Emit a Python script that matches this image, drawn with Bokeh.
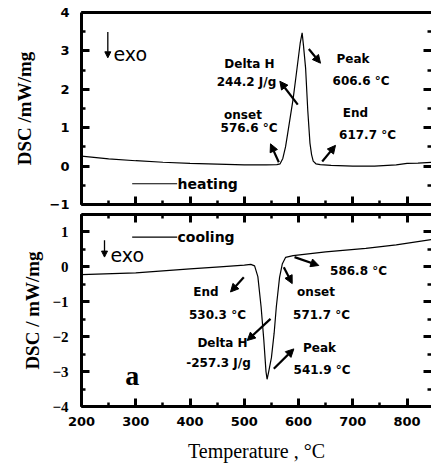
from bokeh.plotting import figure
from bokeh.layouts import column
from bokeh.models import (LinearAxis, SingleIntervalTicker, Range1d, Arrow,
                          NormalHead, ColumnDataSource, CustomJSTickFormatter)
from bokeh.core.properties import value
from bokeh.embed import file_html
from bokeh.resources import INLINE

# ---------------- data ----------------
heat_T = [200, 250, 300, 350, 400, 450, 500, 540, 560, 566, 571, 576, 580, 585,
          590, 595, 599, 603, 606.6, 609, 613, 617, 621, 624, 627, 632, 640, 660,
          700, 740, 780, 800, 820, 845]
heat_dsc = [0.26, 0.19, 0.14, 0.10, 0.07, 0.05, 0.03, 0.03, 0.04, 0.06, 0.20, 0.50,
            0.85, 1.30, 1.75, 2.30, 2.75, 3.20, 3.47, 3.15, 2.55, 1.45, 0.60, 0.30,
            0.13, 0.06, 0.04, 0.02, 0.00, 0.00, 0.03, 0.07, 0.08, 0.10]

cool_T = [200, 300, 400, 455, 500, 512, 519, 525, 531, 536, 540, 542, 545, 550,
          555, 559, 565, 570, 576, 590, 650, 724, 780, 845]
cool_dsc = [-0.22, -0.17, -0.06, 0.00, 0.05, 0.07, 0.03, -0.28, -1.15, -2.10,
            -3.00, -3.22, -3.00, -2.60, -1.90, -1.15, -0.30, 0.08, 0.27, 0.32,
            0.43, 0.53, 0.63, 0.78]

# annotation texts and positions (data units)
top_txt = ["Delta H", "244.2 J/g", "onset", "576.6 °C", "Peak", "606.6 °C",
           "End", "617.7 °C"]
top_txt_x = [509.6, 504.1, 497.6, 508.7, 700.4, 715.1, 705.0, 727.1]
top_txt_y = [2.67, 2.18, 1.34, 0.98, 2.78, 2.21, 1.37, 0.80]
top_arr_x0 = [598.6, 618.9, 563.6, 643.6]
top_arr_y0 = [1.60, 3.05, 0.10, 0.12]
top_arr_x1 = [565.5, 640.5, 548.3, 668.1]
top_arr_y1 = [2.21, 2.68, 0.58, 0.54]

bot_txt = ["586.8 °C", "onset", "571.7 °C", "End", "530.3 °C", "Delta H",
           "-257.3 J/g", "Peak", "541.9 °C"]
bot_txt_x = [710.5, 632.2, 642.3, 429.5, 450.6, 459.9, 452.5, 638.6, 643.2]
bot_txt_y = [-0.12, -0.72, -1.37, -0.73, -1.39, -2.19, -2.74, -2.33, -2.95]
bot_arr_x0 = [592.6, 572.8, 499.1, 548.3, 554.4]
bot_arr_y0 = [0.28, -0.01, -0.30, -1.49, -2.92]
bot_arr_x1 = [637.3, 588.3, 474.6, 505.4, 591.3]
bot_arr_y1 = [0.04, -0.48, -0.72, -2.11, -2.35]

X_RANGE = (200, 845)
TOP_Y = (-1, 4)
BOT_Y = (-4, 1.5)

SANS = "DejaVu Sans"
SERIF = "Liberation Serif"


def tick_axis(ax, labels):
    ax.axis_line_width = 3
    ax.axis_line_color = "black"
    ax.major_tick_in = 8
    ax.major_tick_out = 0
    ax.minor_tick_in = 4
    ax.minor_tick_out = 0
    ax.major_tick_line_width = 3
    ax.minor_tick_line_width = 2.5
    ax.major_tick_line_color = "black"
    ax.minor_tick_line_color = "black"
    ax.major_label_text_color = "black"
    ax.axis_label_text_color = "black"
    if not labels:
        ax.formatter = CustomJSTickFormatter(code="return ''")
        ax.major_label_standoff = 0


def make_panel(height, yr, mb_top, mb_bottom):
    p = figure(width=431, height=height, x_range=Range1d(*X_RANGE),
               y_range=Range1d(*yr), output_backend="svg",
               toolbar_location=None, x_axis_location=None,
               y_axis_location=None, min_border_left=81, min_border_right=0,
               min_border_top=mb_top, min_border_bottom=mb_bottom)
    p.outline_line_color = None
    p.xgrid.visible = False
    p.ygrid.visible = False
    p.background_fill_color = "white"
    return p


def y_ticker():
    return SingleIntervalTicker(interval=1, num_minor_ticks=2)


def x_ticker():
    return SingleIntervalTicker(interval=100, num_minor_ticks=2)


# ---------------- top panel (heating) ----------------
p1 = make_panel(213, TOP_Y, 12, 9)

ly = LinearAxis(ticker=y_ticker(), axis_label="DSC /mW/mg")
tick_axis(ly, True)
ly.major_label_text_font = SANS
ly.major_label_text_font_style = "bold"
ly.major_label_text_font_size = "13px"
ly.major_label_standoff = 12
ly.axis_label_text_font = SERIF
ly.axis_label_text_font_style = "bold"
ly.axis_label_text_font_size = "19px"
ly.axis_label_standoff = 12
p1.add_layout(ly, "left")

ry = LinearAxis(ticker=y_ticker())
tick_axis(ry, False)
ry.axis_line_color = None
p1.add_layout(ry, "right")

bx = LinearAxis(ticker=x_ticker())
tick_axis(bx, False)
p1.add_layout(bx, "below")

tx = LinearAxis(ticker=x_ticker())
tick_axis(tx, False)
tx.major_tick_in = 0
tx.minor_tick_in = 0
p1.add_layout(tx, "above")

p1.line(heat_T, heat_dsc, line_color="black", line_width=1.2)

src_t = ColumnDataSource(dict(x=top_txt_x, y=top_txt_y, t=top_txt))
p1.text(x="x", y="y", text="t", source=src_t, text_font=value(SANS),
        text_font_style="bold", text_font_size="12px", text_align="center",
        text_baseline="middle", text_color="black")
src_a = ColumnDataSource(dict(x0=top_arr_x0, y0=top_arr_y0, x1=top_arr_x1, y1=top_arr_y1))
p1.add_layout(Arrow(end=NormalHead(size=8, line_color="black", fill_color="black"),
                    x_start="x0", y_start="y0", x_end="x1", y_end="y1",
                    source=src_a, line_width=2.2, line_color="black"))

# exo arrow + label, heating legend
p1.add_layout(Arrow(end=NormalHead(size=6, line_color="black", fill_color="black"),
                    x_start=248.5, y_start=3.49, x_end=248.5, y_end=2.82,
                    line_width=1.3, line_color="black"))
p1.text(x=[259], y=[2.93], text=["exo"], text_font=value(SANS),
        text_font_size="19px", text_align="left", text_baseline="middle",
        text_color="black")
p1.line([293.4, 376.3], [-0.46, -0.46], line_color="black", line_width=1.2)
p1.text(x=[376.9], y=[-0.46], text=["heating"], text_font=value(SANS),
        text_font_style="bold", text_font_size="14px", text_align="left",
        text_baseline="middle", text_color="black")

# ---------------- bottom panel (cooling) ----------------
p2 = make_panel(253, BOT_Y, 1, 60)

ly2 = LinearAxis(ticker=y_ticker(), axis_label="DSC / mW/mg")
tick_axis(ly2, True)
ly2.major_label_text_font = SERIF
ly2.major_label_text_font_style = "bold"
ly2.major_label_text_font_size = "15px"
ly2.major_label_standoff = 13
ly2.axis_label_text_font = SERIF
ly2.axis_label_text_font_style = "bold"
ly2.axis_label_text_font_size = "19px"
ly2.axis_label_standoff = 6
p2.add_layout(ly2, "left")

ry2 = LinearAxis(ticker=y_ticker())
tick_axis(ry2, False)
ry2.axis_line_color = None
p2.add_layout(ry2, "right")

tx2 = LinearAxis(ticker=x_ticker())
tick_axis(tx2, False)
p2.add_layout(tx2, "above")

bx2 = LinearAxis(ticker=x_ticker(), axis_label="Temperature , °C")
tick_axis(bx2, True)
bx2.major_label_text_font = SANS
bx2.major_label_text_font_style = "bold"
bx2.major_label_text_font_size = "13px"
bx2.major_label_standoff = 10
bx2.axis_label_text_font = SERIF
bx2.axis_label_text_font_style = "normal"
bx2.axis_label_text_font_size = "20px"
bx2.axis_label_standoff = 11
p2.add_layout(bx2, "below")

p2.line(cool_T, cool_dsc, line_color="black", line_width=1.2)

src_t2 = ColumnDataSource(dict(x=bot_txt_x, y=bot_txt_y, t=bot_txt))
p2.text(x="x", y="y", text="t", source=src_t2, text_font=value(SANS),
        text_font_style="bold", text_font_size="12px", text_align="center",
        text_baseline="middle", text_color="black")
src_a2 = ColumnDataSource(dict(x0=bot_arr_x0, y0=bot_arr_y0, x1=bot_arr_x1, y1=bot_arr_y1))
p2.add_layout(Arrow(end=NormalHead(size=8, line_color="black", fill_color="black"),
                    x_start="x0", y_start="y0", x_end="x1", y_end="y1",
                    source=src_a2, line_width=2.2, line_color="black"))

p2.add_layout(Arrow(end=NormalHead(size=6, line_color="black", fill_color="black"),
                    x_start=242.4, y_start=0.76, x_end=242.4, y_end=0.28,
                    line_width=1.3, line_color="black"))
p2.text(x=[253.4], y=[0.35], text=["exo"], text_font=value(SANS),
        text_font_size="19px", text_align="left", text_baseline="middle",
        text_color="black")
p2.line([293.4, 376.3], [0.85, 0.85], line_color="black", line_width=1.2)
p2.text(x=[376.9], y=[0.85], text=["cooling"], text_font=value(SANS),
        text_font_style="bold", text_font_size="14px", text_align="left",
        text_baseline="middle", text_color="black")
p2.text(x=[293.4], y=[-3.11], text=["a"], text_font=value(SERIF),
        text_font_style="bold", text_font_size="28px", text_align="center",
        text_baseline="alphabetic", text_color="black")

layout = column(p1, p2, spacing=0)
open("out.html", "w").write(file_html(layout, INLINE))
